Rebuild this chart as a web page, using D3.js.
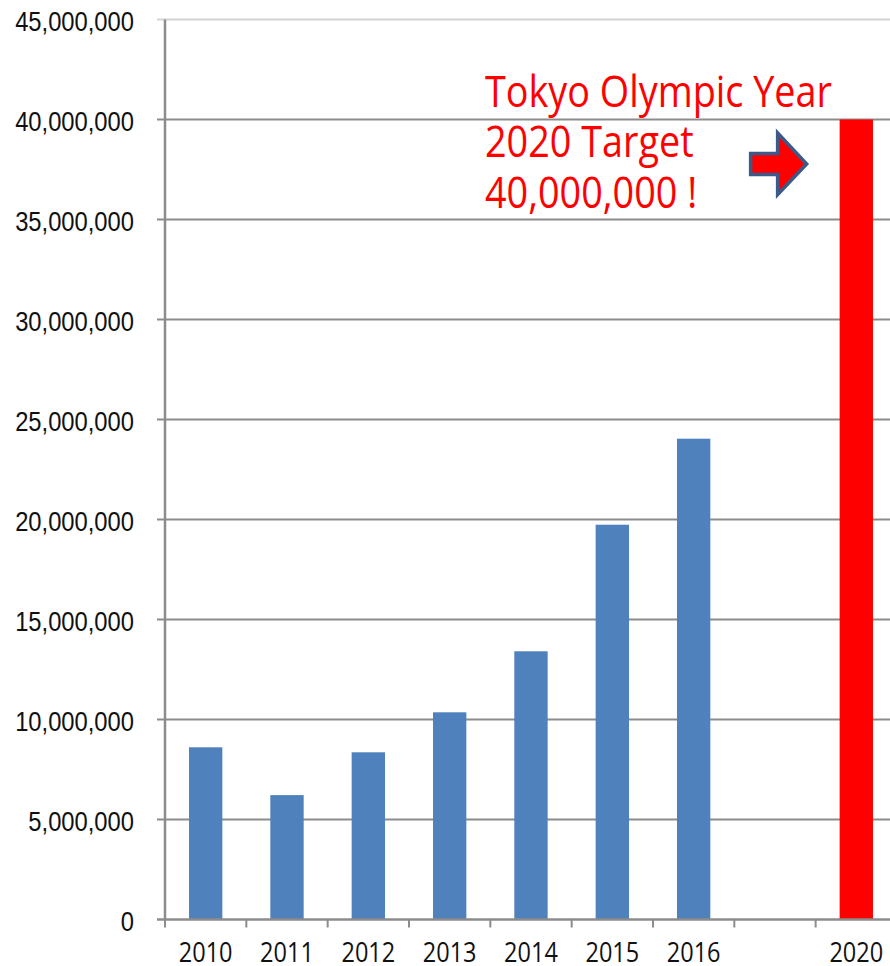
<!DOCTYPE html>
<html lang="en">
<head>
<meta charset="UTF-8" />
<script src="https://cdn.jsdelivr.net/npm/d3@7"></script>
<style>
  html, body { margin: 0; padding: 0; background: #fff; }
  svg { display: block; }
</style>
</head>
<body>
<script>
// visitor arrivals per year (the empty slot stands for 2017-2019)
var tickLabels = ["2010", "2011", "2012", "2013", "2014", "2015", "2016", "", "2020"];
var years = ["2010", "2011", "2012", "2013", "2014", "2015", "2016"];
var visitors = [8610000, 6220000, 8360000, 10360000, 13410000, 19740000, 24040000];
var targetYear = ["2020"];
var targetValue = [40000000];
var yTicks = [0, 5000000, 10000000, 15000000, 20000000, 25000000, 30000000, 35000000, 40000000, 45000000];
var noteLines = ["Tokyo Olympic Year", "2020 Target", "40,000,000 !"];

var w = 890;
var h = 966;
var plotLeft = 165, plotTop = 19.5, plotBottom = 919.5;
var step = 81.33;

var svg = d3.select("body").append("svg")
  .attr("width", w)
  .attr("height", h);

var xScale = d3.scaleBand()
  .domain(tickLabels.map(function (d, i) { return i; }))
  .range([plotLeft, plotLeft + step * tickLabels.length])
  .paddingInner(0.59)
  .paddingOuter(0.295);

var yScale = d3.scaleLinear()
  .domain([0, 45000000])
  .range([plotBottom, plotTop]);

// gridlines
svg.selectAll("line.grid")
  .data(yTicks.slice(1))
  .enter()
  .append("line")
  .attr("class", "grid")
  .attr("x1", plotLeft - 8)
  .attr("x2", w)
  .attr("y1", function (d) { return yScale(d); })
  .attr("y2", function (d) { return yScale(d); })
  .attr("stroke", function (d) { return d === 45000000 ? "#d4d4d4" : "#8c8c8c"; })
  .attr("stroke-width", 2);

// y labels
var fmt = d3.format(",");
svg.selectAll("text.ylab")
  .data(yTicks)
  .enter()
  .append("text")
  .attr("class", "ylab")
  .attr("transform", function (d) {
    return "translate(134," + (yScale(d) + 11) + ") scale(0.88,1)";
  })
  .attr("text-anchor", "end")
  .attr("font-family", "Liberation Sans, Arial, sans-serif")
  .attr("font-size", "27px")
  .attr("fill", "#111")
  .text(function (d) { return fmt(d); });

// bars
svg.selectAll("rect.bar")
  .data(visitors)
  .enter()
  .append("rect")
  .attr("class", "bar")
  .attr("x", function (d, i) { return xScale(tickLabels.indexOf(years[i])); })
  .attr("y", function (d) { return yScale(d); })
  .attr("width", xScale.bandwidth())
  .attr("height", function (d) { return yScale(0) - yScale(d); })
  .attr("fill", "#4f81bd");

svg.selectAll("rect.target")
  .data(targetValue)
  .enter()
  .append("rect")
  .attr("class", "target")
  .attr("x", function (d, i) { return xScale(tickLabels.indexOf(targetYear[i])); })
  .attr("y", function (d) { return yScale(d); })
  .attr("width", xScale.bandwidth())
  .attr("height", function (d) { return yScale(0) - yScale(d); })
  .attr("fill", "#ff0000");

// axes
svg.append("line")
  .attr("x1", plotLeft).attr("x2", plotLeft)
  .attr("y1", plotTop).attr("y2", plotBottom)
  .attr("stroke", "#8c8c8c").attr("stroke-width", 2.5);
svg.append("line")
  .attr("x1", plotLeft - 8).attr("x2", w)
  .attr("y1", plotBottom).attr("y2", plotBottom)
  .attr("stroke", "#8c8c8c").attr("stroke-width", 2.5);

svg.selectAll("line.xtick")
  .data(d3.range(tickLabels.length + 1))
  .enter()
  .append("line")
  .attr("class", "xtick")
  .attr("x1", function (i) { return plotLeft + i * step; })
  .attr("x2", function (i) { return plotLeft + i * step; })
  .attr("y1", plotBottom).attr("y2", plotBottom + 8)
  .attr("stroke", "#8c8c8c").attr("stroke-width", 2);

svg.selectAll("text.xlab")
  .data(tickLabels)
  .enter()
  .append("text")
  .attr("class", "xlab")
  .attr("transform", function (d, i) {
    return "translate(" + (xScale(i) + xScale.bandwidth() / 2) + "," + (plotBottom + 42) + ") scale(0.84,1)";
  })
  .attr("text-anchor", "middle")
  .attr("font-family", "Open Sans, sans-serif")
  .attr("font-size", "28px")
  .attr("fill", "#111")
  .text(function (d) { return d; });

// annotation
var note = svg.append("g");
note.selectAll("text")
  .data(noteLines)
  .enter()
  .append("text")
  .attr("x", 0)
  .attr("y", function (d, i) { return i * 50.5; })
  .attr("font-family", "Open Sans, sans-serif")
  .attr("font-size", "44px")
  .attr("fill", "#ff0000")
  .text(function (d) { return d; });
var firstW = note.select("text").node().getComputedTextLength();
note.attr("transform", "translate(485,107) scale(" + (347 / firstW) + ",1)");

// block arrow pointing at the target bar
var ax = xScale(tickLabels.indexOf("2020")) - 89;
var ay = yScale(38000000) + 4.5;
var arrow = [[0, -10.5], [27, -10.5], [27, -31], [56, 0], [27, 30.5], [27, 10.5], [0, 10.5]];
svg.append("path")
  .attr("d", d3.line()(arrow.map(function (p) { return [ax + p[0], ay + p[1]]; })) + "Z")
  .attr("fill", "#ff0000")
  .attr("stroke", "#3b5a8a")
  .attr("stroke-width", 3.5)
  .attr("stroke-linejoin", "miter");
</script>
</body>
</html>
